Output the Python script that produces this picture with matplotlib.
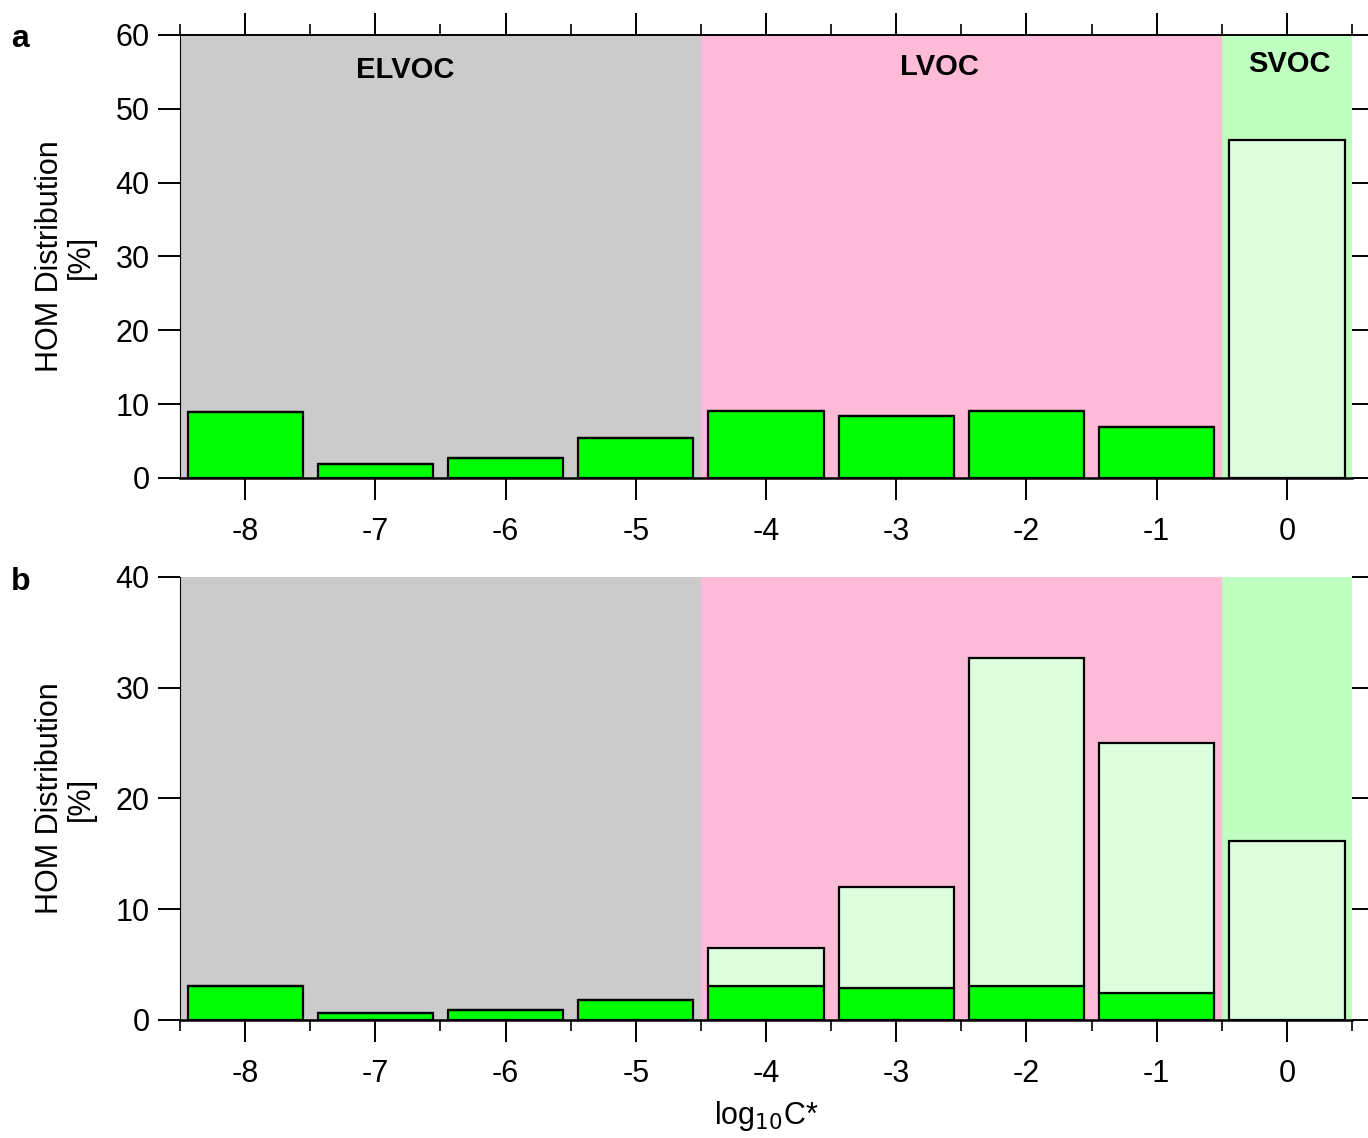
import matplotlib
matplotlib.use('Agg')
import matplotlib.pyplot as plt
from matplotlib.ticker import MultipleLocator, FixedLocator

plt.rcParams['font.family'] = ['Liberation Sans', 'DejaVu Sans']

# volatility bins (log10 C*)
bins = [-8, -7, -6, -5, -4, -3, -2, -1, 0]

# panel a: dark green part and total bar height [%]
a_green = [8.9, 1.9, 2.7, 5.4, 9.1, 8.4, 9.1, 6.9, 0.0]
a_total = [8.9, 1.9, 2.7, 5.4, 9.1, 8.4, 9.1, 6.9, 45.8]

# panel b
b_green = [3.1, 0.6, 0.9, 1.8, 3.1, 2.9, 3.1, 2.4, 0.0]
b_total = [3.1, 0.6, 0.9, 1.8, 6.5, 12.0, 32.7, 25.0, 16.2]

classes = ['ELVOC', 'LVOC', 'SVOC']
class_edges = [-8.5, -4.5, -0.5, 0.5]
class_colors = ['#cbcbcb', '#fdbbd7', '#bfffbf']
class_label_x = [-6.77, -2.67, 0.02]
class_label_y = [55.3, 55.6, 56.0]

green = '#00ff00'
light = '#ddffdd'
fs = 22

fig = plt.figure(figsize=(13.68, 11.38), dpi=100)
ax_a = fig.add_axes([0.1316, 0.58, 0.8567, 0.3893])
ax_b = fig.add_axes([0.1316, 0.1037, 0.8567, 0.3893])


def draw_panel(ax, green_vals, total_vals, ymax, top_ticks, bottom_minor):
    for i in range(3):
        ax.axvspan(class_edges[i], class_edges[i + 1], color=class_colors[i], lw=0, zorder=0)
    upper = [t - g for t, g in zip(total_vals, green_vals)]
    ax.bar(bins, green_vals, width=0.885, color=green, edgecolor='black', lw=1.6, zorder=2)
    ax.bar(bins, upper, bottom=green_vals, width=0.885, color=light, edgecolor='black', lw=1.6, zorder=2)
    ax.set_xlim(-8.5, 0.5)
    ax.set_ylim(0, ymax)
    ax.yaxis.set_major_locator(MultipleLocator(10))
    ax.set_xticks(bins)
    ax.set_xticklabels([str(b) for b in bins])
    ax.tick_params(axis='both', labelsize=fs, direction='out', width=1.4, color='black')
    ax.tick_params(axis='x', which='major', length=16, pad=12, top=top_ticks, bottom=True)
    ax.tick_params(axis='y', which='major', length=16, pad=6, left=True, right=True)
    if top_ticks or bottom_minor:
        ax.xaxis.set_minor_locator(FixedLocator([b - 0.5 for b in bins] + [0.5]))
        ax.tick_params(axis='x', which='minor', length=8, width=1.2,
                       top=top_ticks, bottom=bottom_minor)
    ax.spines['right'].set_visible(False)
    ax.spines['left'].set_linewidth(0.8)
    ax.spines['top'].set_linewidth(1.4)
    ax.spines['top'].set_visible(top_ticks)
    ax.spines['bottom'].set_linewidth(1.8)
    ax.set_ylabel('HOM Distribution\n[%]', fontsize=fs, labelpad=14, linespacing=1.05)


draw_panel(ax_a, a_green, a_total, 60, True, False)
draw_panel(ax_b, b_green, b_total, 40, False, True)

for name, xl, yl in zip(classes, class_label_x, class_label_y):
    ax_a.text(xl, yl, name, ha='center', va='center', fontsize=21, fontweight='bold',
              family=['Liberation Sans Narrow', 'Liberation Sans'])

ax_b.set_xlabel('log$_{10}$C*', fontsize=fs, labelpad=7)

fig.text(0.008, 0.966, 'a', fontsize=23, fontweight='bold', va='center')
fig.text(0.008, 0.489, 'b', fontsize=23, fontweight='bold', va='center')

fig.savefig('out.png', dpi=100)
